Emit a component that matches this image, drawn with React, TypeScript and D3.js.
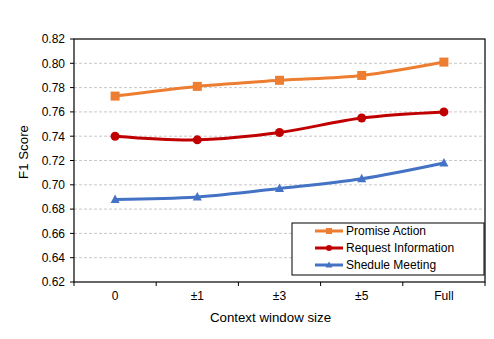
import React from "react";
import * as d3 from "d3";

const categories = ["0", "±1", "±3", "±5", "Full"];
const promiseAction = [0.773, 0.781, 0.786, 0.79, 0.801];
const requestInformation = [0.74, 0.737, 0.743, 0.755, 0.76];
const sheduleMeeting = [0.688, 0.69, 0.697, 0.705, 0.718];
const yTicks = [0.62, 0.64, 0.66, 0.68, 0.7, 0.72, 0.74, 0.76, 0.78, 0.8, 0.82];

const series = [
  { name: "Promise Action", values: promiseAction, color: "#ED7D31", marker: "square" },
  { name: "Request Information", values: requestInformation, color: "#C00000", marker: "circle" },
  { name: "Shedule Meeting", values: sheduleMeeting, color: "#4472C4", marker: "triangle" },
];

const W = 494, H = 339;
const L = 74, R = 485, T = 39, B = 282;

function Marker({ type, x, y, color }: { type: string; x: number; y: number; color: string }) {
  if (type === "square") return <rect x={x - 4.5} y={y - 4.5} width={9} height={9} fill={color} />;
  if (type === "circle") return <circle cx={x} cy={y} r={4.5} fill={color} />;
  return <path d={`M${x},${y - 5} L${x + 4.5},${y + 3.5} L${x - 4.5},${y + 3.5} Z`} fill={color} />;
}

export default function App() {
  const x = d3.scaleBand<string>().domain(categories).range([L, R]);
  const y = d3.scaleLinear().domain([0.62, 0.82]).range([B, T]);
  const cx = (c: string) => (x(c) as number) + x.bandwidth() / 2;
  const line = d3
    .line<number>()
    .x((_, i) => cx(categories[i]))
    .y((v) => y(v))
    .curve(d3.curveCatmullRom.alpha(0.5));
  const font = "'Liberation Sans', Arial, sans-serif";
  const boundaries = categories.map((c) => x(c) as number).concat([R]);
  const legX = 292, legY = 223, legW = 192, legH = 52;
  return (
    <svg width={W} height={H} style={{ position: "absolute", left: 0, top: 0 }} fontFamily={font}>
      <rect width={W} height={H} fill="#fff" />
      {yTicks.slice(1, -1).map((t) => (
        <line key={t} x1={L} x2={R} y1={y(t)} y2={y(t)} stroke="#C8C8C8" strokeWidth={1} strokeDasharray="3,2" />
      ))}
      <rect x={L} y={T} width={R - L} height={B - T} fill="none" stroke="#000" strokeWidth={1.2} />
      {yTicks.map((t) => (
        <g key={t}>
          <line x1={L - 4} x2={L} y1={y(t)} y2={y(t)} stroke="#000" />
          <text x={65} y={y(t) + 4.3} fontSize={12} textAnchor="end" fill="#000">
            {t.toFixed(2)}
          </text>
        </g>
      ))}
      {boundaries.map((b, i) => (
        <line key={i} x1={b} x2={b} y1={B} y2={B + 4} stroke="#000" />
      ))}
      {categories.map((c) => (
        <text key={c} x={cx(c)} y={300} fontSize={12} textAnchor="middle" fill="#000">
          {c}
        </text>
      ))}
      <text x={270.5} y={322} fontSize={13.3} textAnchor="middle" fill="#000">
        Context window size
      </text>
      <text transform={`translate(28,152) rotate(-90)`} fontSize={13.3} textAnchor="middle" fill="#000">
        F1 Score
      </text>
      {series.map((s) => (
        <g key={s.name}>
          <path d={line(s.values) || ""} fill="none" stroke={s.color} strokeWidth={3} strokeLinecap="round" />
          {s.values.map((v, i) => (
            <Marker key={i} type={s.marker} x={cx(categories[i])} y={y(v)} color={s.color} />
          ))}
        </g>
      ))}
      <rect x={legX} y={legY} width={legW} height={legH} fill="#fff" stroke="#000" strokeWidth={1} />
      {series.map((s, i) => {
        const ry = legY + 8 + i * 17;
        return (
          <g key={s.name}>
            <line x1={315} x2={343} y1={ry} y2={ry} stroke={s.color} strokeWidth={3} />
            {s.marker === "square" ? (
              <rect x={326} y={ry - 3} width={6} height={6} fill={s.color} />
            ) : s.marker === "circle" ? (
              <circle cx={329} cy={ry} r={3} fill={s.color} />
            ) : (
              <path d={`M329,${ry - 3.5} L332.5,${ry + 2.5} L325.5,${ry + 2.5} Z`} fill={s.color} />
            )}
            <text x={346} y={ry + 4.3} fontSize={12} fill="#000">
              {s.name}
            </text>
          </g>
        );
      })}
    </svg>
  );
}
